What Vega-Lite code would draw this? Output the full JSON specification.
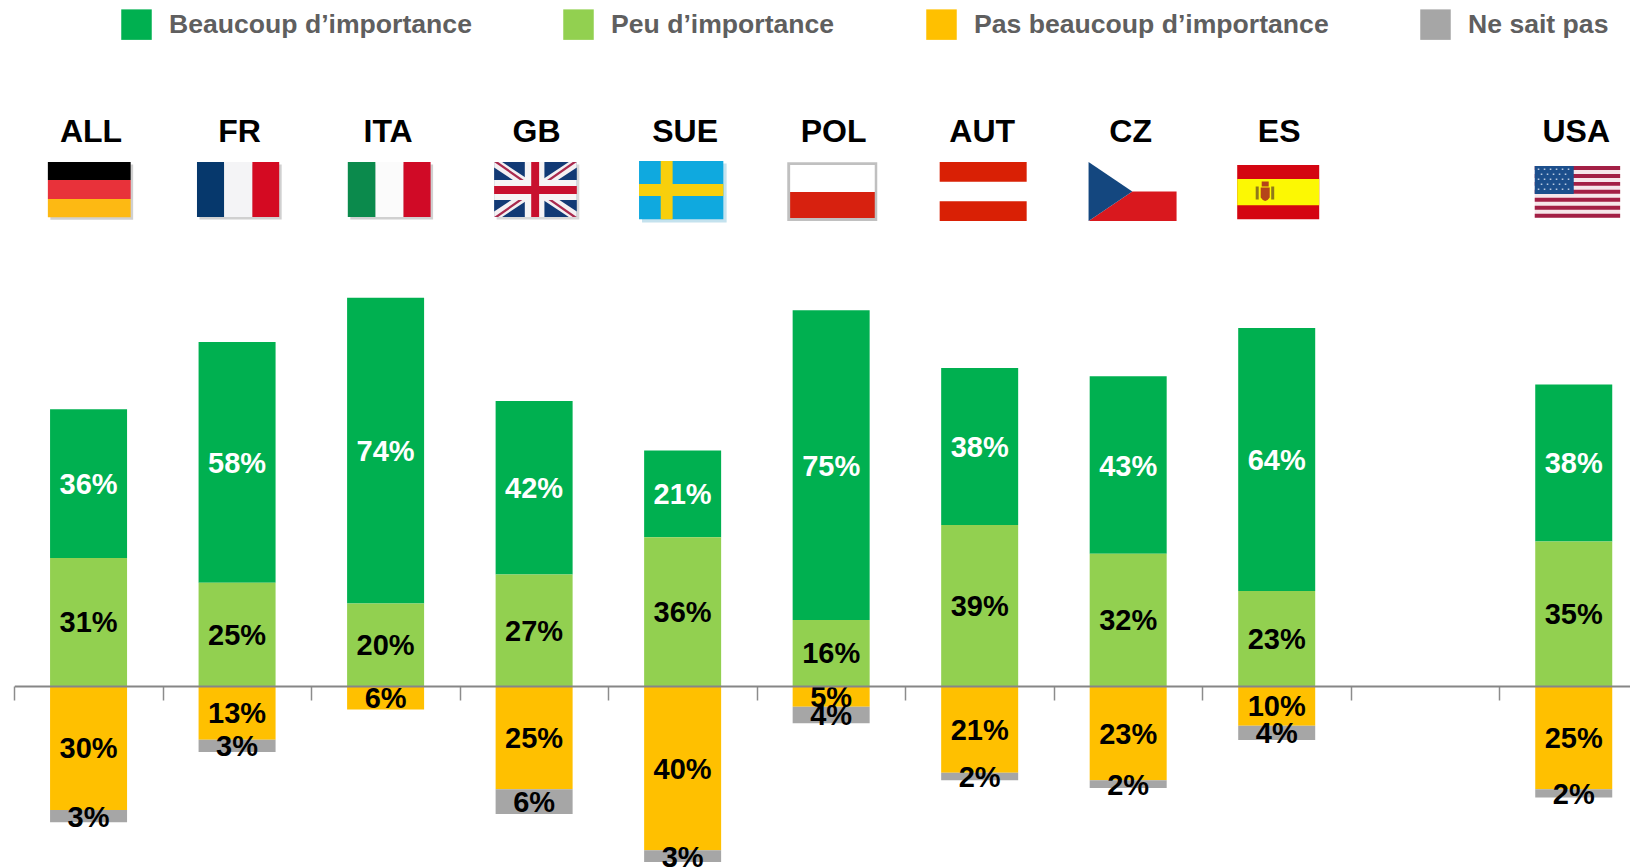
{
"$schema":"https://vega.github.io/schema/vega-lite/v6.json",
"width":1630,"height":868,"padding":0,"autosize":{"type":"none"},"background":"white",
"config":{"view":{"stroke":null},"font":"Liberation Sans"},
"datasets":{
"reponses":[
{"pays":"ALL","reponse":"Beaucoup d’importance","valeur":36,"rang":2,"label":"36%"},
{"pays":"ALL","reponse":"Peu d’importance","valeur":31,"rang":1,"label":"31%"},
{"pays":"ALL","reponse":"Pas beaucoup d’importance","valeur":-30,"rang":3,"label":"30%"},
{"pays":"ALL","reponse":"Ne sait pas","valeur":-3,"rang":4,"label":"3%"},
{"pays":"FR","reponse":"Beaucoup d’importance","valeur":58.3,"rang":2,"label":"58%"},
{"pays":"FR","reponse":"Peu d’importance","valeur":25,"rang":1,"label":"25%"},
{"pays":"FR","reponse":"Pas beaucoup d’importance","valeur":-13,"rang":3,"label":"13%"},
{"pays":"FR","reponse":"Ne sait pas","valeur":-3,"rang":4,"label":"3%"},
{"pays":"ITA","reponse":"Beaucoup d’importance","valeur":74,"rang":2,"label":"74%"},
{"pays":"ITA","reponse":"Peu d’importance","valeur":20,"rang":1,"label":"20%"},
{"pays":"ITA","reponse":"Pas beaucoup d’importance","valeur":-5.7,"rang":3,"label":"6%"},
{"pays":"GB","reponse":"Beaucoup d’importance","valeur":42,"rang":2,"label":"42%"},
{"pays":"GB","reponse":"Peu d’importance","valeur":27,"rang":1,"label":"27%"},
{"pays":"GB","reponse":"Pas beaucoup d’importance","valeur":-25,"rang":3,"label":"25%"},
{"pays":"GB","reponse":"Ne sait pas","valeur":-6,"rang":4,"label":"6%"},
{"pays":"SUE","reponse":"Beaucoup d’importance","valeur":21,"rang":2,"label":"21%"},
{"pays":"SUE","reponse":"Peu d’importance","valeur":36,"rang":1,"label":"36%"},
{"pays":"SUE","reponse":"Pas beaucoup d’importance","valeur":-39.8,"rang":3,"label":"40%"},
{"pays":"SUE","reponse":"Ne sait pas","valeur":-2.8,"rang":4,"label":"3%"},
{"pays":"POL","reponse":"Beaucoup d’importance","valeur":75,"rang":2,"label":"75%"},
{"pays":"POL","reponse":"Peu d’importance","valeur":16,"rang":1,"label":"16%"},
{"pays":"POL","reponse":"Pas beaucoup d’importance","valeur":-5,"rang":3,"label":"5%"},
{"pays":"POL","reponse":"Ne sait pas","valeur":-4,"rang":4,"label":"4%"},
{"pays":"AUT","reponse":"Beaucoup d’importance","valeur":38,"rang":2,"label":"38%"},
{"pays":"AUT","reponse":"Peu d’importance","valeur":39,"rang":1,"label":"39%"},
{"pays":"AUT","reponse":"Pas beaucoup d’importance","valeur":-21,"rang":3,"label":"21%"},
{"pays":"AUT","reponse":"Ne sait pas","valeur":-1.8,"rang":4,"label":"2%"},
{"pays":"CZ","reponse":"Beaucoup d’importance","valeur":43,"rang":2,"label":"43%"},
{"pays":"CZ","reponse":"Peu d’importance","valeur":32,"rang":1,"label":"32%"},
{"pays":"CZ","reponse":"Pas beaucoup d’importance","valeur":-22.8,"rang":3,"label":"23%"},
{"pays":"CZ","reponse":"Ne sait pas","valeur":-1.9,"rang":4,"label":"2%"},
{"pays":"ES","reponse":"Beaucoup d’importance","valeur":63.7,"rang":2,"label":"64%"},
{"pays":"ES","reponse":"Peu d’importance","valeur":23,"rang":1,"label":"23%"},
{"pays":"ES","reponse":"Pas beaucoup d’importance","valeur":-9.6,"rang":3,"label":"10%"},
{"pays":"ES","reponse":"Ne sait pas","valeur":-3.5,"rang":4,"label":"4%"},
{"pays":"USA","reponse":"Beaucoup d’importance","valeur":38,"rang":2,"label":"38%"},
{"pays":"USA","reponse":"Peu d’importance","valeur":35,"rang":1,"label":"35%"},
{"pays":"USA","reponse":"Pas beaucoup d’importance","valeur":-25,"rang":3,"label":"25%"},
{"pays":"USA","reponse":"Ne sait pas","valeur":-2,"rang":4,"label":"2%"}
],
"pays":[{"pays":"ALL"},{"pays":"FR"},{"pays":"ITA"},{"pays":"GB"},{"pays":"SUE"},{"pays":"POL"},{"pays":"AUT"},{"pays":"CZ"},{"pays":"ES"},{"pays":"USA"}],
"drapeaux":[
{"pays":"ALL","partie":"ALL ombre"},{"pays":"ALL","partie":"ALL noir"},{"pays":"ALL","partie":"ALL rouge"},{"pays":"ALL","partie":"ALL or"},
{"pays":"FR","partie":"FR ombre"},{"pays":"FR","partie":"FR bleu"},{"pays":"FR","partie":"FR blanc"},{"pays":"FR","partie":"FR rouge"},
{"pays":"ITA","partie":"ITA ombre"},{"pays":"ITA","partie":"ITA vert"},{"pays":"ITA","partie":"ITA blanc"},{"pays":"ITA","partie":"ITA rouge"},
{"pays":"GB","partie":"GB ombre"},{"pays":"GB","partie":"GB bleu"},{"pays":"GB","partie":"GB diag blanc"},{"pays":"GB","partie":"GB diag rouge"},{"pays":"GB","partie":"GB croix blanc"},{"pays":"GB","partie":"GB croix rouge"},
{"pays":"SUE","partie":"SUE ombre"},{"pays":"SUE","partie":"SUE bleu"},{"pays":"SUE","partie":"SUE croix"},
{"pays":"POL","partie":"POL cadre"},{"pays":"POL","partie":"POL blanc"},{"pays":"POL","partie":"POL rouge"},
{"pays":"AUT","partie":"AUT rouge"},
{"pays":"CZ","partie":"CZ rouge"},{"pays":"CZ","partie":"CZ bleu"},
{"pays":"ES","partie":"ES rouge"},{"pays":"ES","partie":"ES jaune"},{"pays":"ES","partie":"ES colonnes"},{"pays":"ES","partie":"ES blason"},
{"pays":"USA","partie":"USA blanc"},{"pays":"USA","partie":"USA rouge"},{"pays":"USA","partie":"USA canton"},{"pays":"USA","partie":"USA etoiles"}
]
},
"encoding":{"x":{"field":"pays","type":"nominal","sort":null,
 "scale":{"domain":["ALL","FR","ITA","GB","SUE","POL","AUT","CZ","ES"," ","USA"],"range":[14.3,1648],"paddingInner":0,"paddingOuter":0},
 "axis":{"title":null,"labels":false,"orient":"bottom","offset":-182,"bandPosition":0,"tickBand":"extent","tickSize":14,"tickColor":"#8c8c8c","tickWidth":1.5,"domainColor":"#868686","domainWidth":2.2,"grid":false,"zindex":1}}},
"layer":[
{"data":{"name":"reponses"},"mark":{"type":"bar","width":77},
 "encoding":{
 "y":{"field":"valeur","type":"quantitative","stack":"zero","scale":{"domain":[-44.07,166.1],"nice":false,"zero":false},"axis":null},
 "order":{"field":"rang","type":"quantitative"},
 "color":{"field":"reponse","type":"nominal",
  "scale":{"domain":["Beaucoup d’importance","Peu d’importance","Pas beaucoup d’importance","Ne sait pas"],"range":["#00b050","#92d050","#ffc000","#a6a6a6"]},
  "legend":{"orient":"none","legendX":121,"legendY":9,"direction":"horizontal","columns":4,"columnPadding":91,"title":null,"symbolType":"square","symbolSize":930,"symbolStrokeWidth":0,"labelFont":"Liberation Sans","labelFontSize":26.6,"labelFontWeight":"bold","labelColor":"#5f5f5f","labelOffset":17,"labelLimit":600}}}},
{"data":{"name":"reponses"},"mark":{"type":"text","font":"Liberation Sans","fontWeight":"bold","fontSize":29,"baseline":"middle","align":"center","dy":1.5},
 "encoding":{
 "y":{"field":"valeur","type":"quantitative","stack":"zero","bandPosition":0.5},
 "order":{"field":"rang","type":"quantitative"},
 "detail":{"field":"reponse"},
 "text":{"field":"label"},
 "color":{"condition":{"test":"datum.reponse === 'Beaucoup d’importance'","value":"white"},"value":"black"}}},
{"data":{"name":"pays"},"mark":{"type":"text","font":"Liberation Sans","fontWeight":"bold","fontSize":32,"baseline":"middle","align":"center","dx":2.5,"color":"black"},
 "encoding":{"y":{"datum":134.2,"type":"quantitative"},"text":{"field":"pays"}}},
{"data":{"name":"drapeaux"},"mark":{"type":"point","filled":true,"opacity":1,"size":4,"strokeWidth":0},
 "encoding":{"y":{"datum":120.22,"type":"quantitative"},
 "color":{"field":"partie","type":"nominal","legend":null,"scale":{
  "domain":["ALL ombre","ALL noir","ALL rouge","ALL or","FR ombre","FR bleu","FR blanc","FR rouge","ITA ombre","ITA vert","ITA blanc","ITA rouge","GB ombre","GB bleu","GB diag blanc","GB diag rouge","GB croix blanc","GB croix rouge","SUE ombre","SUE bleu","SUE croix","POL cadre","POL blanc","POL rouge","AUT rouge","CZ rouge","CZ bleu","ES rouge","ES jaune","ES colonnes","ES blason","USA blanc","USA rouge","USA canton","USA etoiles"],
  "range":["#d0d0d0","#000000","#e8323a","#fdb913","#d0d0d0","#06386c","#f4f4f6","#d40a22","#d0d0d0","#0b8a4c","#fbfbfb","#d00a26","#d8d8d8","#123a75","#f4f0f2","#a92a4e","#f6f4f5","#c8102e","#c4e2ee","#0fa9df","#f8cf0c","#c0c0c0","#ffffff","#d7210f","#d92005","#d9181e","#14477f","#d40511","#fcf803","#8f7a1a","#b5441a","#f6e6ea","#a31f45","#1c4f8c","#b8c9e0"]}},
 "shape":{"field":"partie","type":"nominal","legend":null,"scale":{
  "domain":["ALL ombre","ALL noir","ALL rouge","ALL or","FR ombre","FR bleu","FR blanc","FR rouge","ITA ombre","ITA vert","ITA blanc","ITA rouge","GB ombre","GB bleu","GB diag blanc","GB diag rouge","GB croix blanc","GB croix rouge","SUE ombre","SUE bleu","SUE croix","POL cadre","POL blanc","POL rouge","AUT rouge","CZ rouge","CZ bleu","ES rouge","ES jaune","ES colonnes","ES blason","USA blanc","USA rouge","USA canton","USA etoiles"],
  "range":[
  "M-38.2 -25H44.6V30.3H-38.2Z","M-40.7 -27.5H42.1V-9.5H-40.7Z","M-40.7 -9.5H42.1V9.5H-40.7Z","M-40.7 9.5H42.1V27.8H-40.7Z",
  "M-37.6 -25H44.6V30H-37.6Z","M-40.1 -27.5H-12.9V27.5H-40.1Z","M-12.9 -27.5H15.3V27.5H-12.9Z","M15.3 -27.5H42.1V27.5H15.3Z",
  "M-35.3 -25H47.5V30H-35.3Z","M-37.8 -27.5H-10V27.5H-37.8Z","M-10 -27.5H17.9V27.5H-10Z","M17.9 -27.5H45V27.5H17.9Z",
  "M-37.5 -25H45.2V30H-37.5Z","M-40 -27.5H42.7V27.5H-40Z",
  "M-40 -27.5L-32 -27.5L42.7 22L42.7 27.5L34.7 27.5L-40 -22ZM42.7 -27.5L34.7 -27.5L-40 22L-40 27.5L-32 27.5L42.7 -22Z",
  "M-40 -27.5L-36 -27.5L42.7 27.5L38.7 27.5ZM42.7 -27.5L38.7 -27.5L-40 27.5L-36 27.5Z",
  "M-9.3 -27.5H10.3V-9.5H42.7V10.5H10.3V27.5H-9.3V10.5H-40V-9.5H-9.3Z",
  "M-2.9 -27.5H5V-3.5H42.7V4.5H5V27.5H-2.9V4.5H-40V-3.5H-2.9Z",
  "M-40.6 -26H44V33H-40.6Z","M-43.6 -28.5H40.7V29.8H-43.6Z","M-21.9 -28.5H-10V-5.5H40.7V6.5H-10V29.8H-21.9V6.5H-43.6V-5.5H-21.9Z",
  "M-43.9 -27.2H46.1V31.5H-43.9Z","M-41 -24.5H43.6V2.5H-41Z","M-41 2.5H43.6V28.5H-41Z",
  "M-40 -27.5H47V-7.8H-40ZM-40 11.8H47V31.5H-40Z",
  "M-39.6 31.5L4.1 2L48.4 2L48.4 31.5Z","M-39.6 -27.5L4.1 2L-39.6 31.5Z",
  "M-39.5 -24.5H42.5V29.8H-39.5Z","M-39.5 -10.5H42.5V15.8H-39.5Z",
  "M-21 -3H-18V10H-21ZM-5.5 -3H-2.5V10H-5.5Z",
  "M-16 -2H-7V8Q-11.5 15 -16 8ZM-15 -8H-8V-3H-15Z",
  "M-39 -23.5H46.4V28.2H-39Z",
  "M-39 -23.5H46.4V-19.52H-39ZM-39 -15.55H46.4V-11.57H-39ZM-39 -7.59H46.4V-3.61H-39ZM-39 0.36H46.4V4.34H-39ZM-39 8.32H46.4V12.3H-39ZM-39 16.27H46.4V20.25H-39ZM-39 24.22H46.4V28.2H-39Z",
  "M-39 -23.5H0V4.5H-39Z",
  "M-36 -21h1.6v1.6h-1.6zM-30 -21h1.6v1.6h-1.6zM-24 -21h1.6v1.6h-1.6zM-18 -21h1.6v1.6h-1.6zM-12 -21h1.6v1.6h-1.6zM-6 -21h1.6v1.6h-1.6zM-33 -16h1.6v1.6h-1.6zM-27 -16h1.6v1.6h-1.6zM-21 -16h1.6v1.6h-1.6zM-15 -16h1.6v1.6h-1.6zM-9 -16h1.6v1.6h-1.6zM-36 -11h1.6v1.6h-1.6zM-30 -11h1.6v1.6h-1.6zM-24 -11h1.6v1.6h-1.6zM-18 -11h1.6v1.6h-1.6zM-12 -11h1.6v1.6h-1.6zM-6 -11h1.6v1.6h-1.6zM-33 -6h1.6v1.6h-1.6zM-27 -6h1.6v1.6h-1.6zM-21 -6h1.6v1.6h-1.6zM-15 -6h1.6v1.6h-1.6zM-9 -6h1.6v1.6h-1.6zM-36 -1h1.6v1.6h-1.6zM-30 -1h1.6v1.6h-1.6zM-24 -1h1.6v1.6h-1.6zM-18 -1h1.6v1.6h-1.6zM-12 -1h1.6v1.6h-1.6zM-6 -1h1.6v1.6h-1.6z"
  ]}}}}
],
"resolve":{"scale":{"color":"independent","shape":"independent"}}
}
